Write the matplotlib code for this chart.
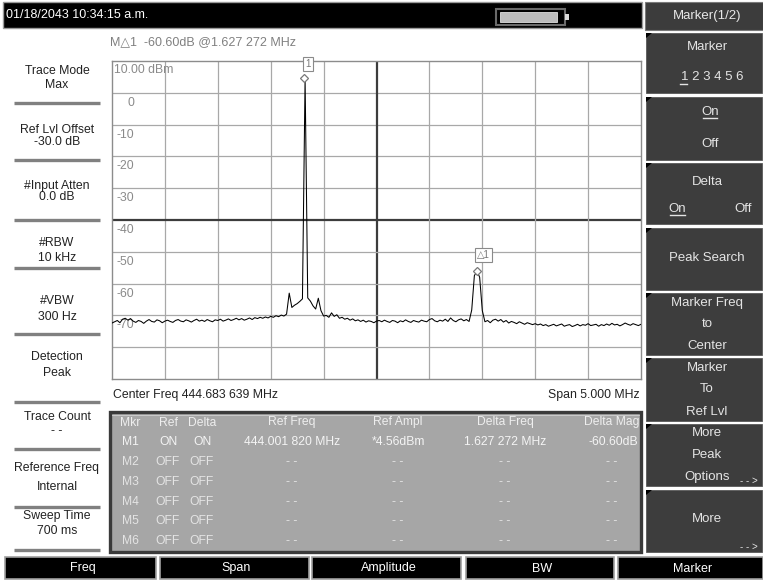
import numpy as np
import matplotlib
matplotlib.use("Agg")
import matplotlib.pyplot as plt
from matplotlib.patches import Rectangle, Polygon

plt.rcParams['font.family'] = ['Liberation Sans', 'DejaVu Sans']

W, H = 763, 582

# ---------------------------------------------------------------------------
# Sweep settings and trace
# ---------------------------------------------------------------------------
CENTER_MHZ = 444.683639
SPAN_MHZ = 5.0
REF_DBM = 10.0
DB_PER_DIV = 10.0
N_DIV = 10

# 201 sweep points, left to right (dBm)
trace_dbm = [
    -72.4, -72.0, -71.6, -72.3, -71.2, -70.9, -71.5, -71.0, -71.8, -72.2, -71.6,
    -71.9, -72.5, -71.8, -71.3, -71.9, -72.1, -71.4, -71.7, -72.3, -71.8,
    -71.5, -71.9, -72.2, -71.6, -71.3, -71.8, -72.0, -71.4, -71.7, -72.1, -71.6, -71.2, -71.8,
    -71.5, -71.9, -71.3, -71.7, -72.0, -71.4, -71.6, -71.2, -71.8, -71.5, -71.1, -71.6,
    -71.3, -70.9, -71.4, -71.0, -71.5, -71.2, -70.8, -71.3, -70.7, -71.0, -70.6, -70.9, -70.5,
    -70.8, -70.3, -70.6, -70.1, -70.4, -69.9, -70.2, -69.6,
    -63.0, -67.5, -66.8, -66.3, -65.6, -64.8, 4.56, -64.5, -65.5, -67.0,
    -68.0, -64.6, -68.5, -70.2, -70.0, -70.6, -69.2, -70.3, -69.8, -70.9,
    -70.6, -71.2, -70.9, -71.5, -71.1, -71.7, -71.4, -71.9, -71.5, -72.1, -71.7, -71.9, -72.3, -71.8,
    -71.6, -72.0, -71.5, -71.9, -72.2, -71.6, -71.8, -72.3, -71.7, -72.0, -71.4,
    -71.9, -72.2, -71.6, -71.9, -72.1, -71.5, -71.8, -72.0, -71.3, -71.0,
    -71.7, -72.0, -71.5, -71.8, -71.2, -71.9, -70.8, -71.6, -72.0, -71.4, -71.1, -71.7, -71.3, -71.9,
    -68.3, -57.5, -56.04, -58.0, -68.5,
    -72.0, -71.6, -72.3, -71.5, -71.2, -71.8, -71.3, -72.1, -71.6, -72.4,
    -71.9, -72.2, -72.6, -72.0, -72.4, -72.8, -72.3, -72.6, -72.9,
    -72.6, -73.0, -72.7, -73.2, -72.9, -73.4, -73.1, -72.8, -73.3, -73.0,
    -72.7, -73.4, -73.1, -72.9, -73.5, -73.2, -72.8, -73.3, -72.9, -73.1,
    -72.6, -73.2, -73.0, -72.8, -73.4, -72.9, -73.2, -72.7, -73.1, -72.5,
    -73.0, -72.8, -73.3, -72.9, -72.4, -72.8, -73.1, -72.6, -72.9, -73.2, -72.8,
]

marker_freq = 444.001820
marker_dbm = 4.56
delta_freq = 1.627272
delta_db = -60.60

# ---------------------------------------------------------------------------
# Screen texts
# ---------------------------------------------------------------------------
date_text = "01/18/2043 10:34:15 a.m."
marker_readout = "M\u25b31  -60.60dB @1.627 272 MHz"
left_titles = ["Trace Mode", "Ref Lvl Offset", "#Input Atten", "#RBW", "#VBW",
               "Detection", "Trace Count", "Reference Freq", "Sweep Time"]
left_values = ["Max", "-30.0 dB", "0.0 dB", "10 kHz", "300 Hz",
               "Peak", "- -", "Internal", "700 ms"]
soft_keys = ["Freq", "Span", "Amplitude", "BW", "Marker"]

table_header = ["Mkr", "Ref", "Delta", "Ref Freq", "Ref Ampl", "Delta Freq", "Delta Mag"]
mkr_names = ["M1", "M2", "M3", "M4", "M5", "M6"]
mkr_ref = ["ON", "OFF", "OFF", "OFF", "OFF", "OFF"]
mkr_delta = ["ON", "OFF", "OFF", "OFF", "OFF", "OFF"]
mkr_ref_freq = ["444.001 820 MHz", "- -", "- -", "- -", "- -", "- -"]
mkr_ref_ampl = ["*4.56dBm", "- -", "- -", "- -", "- -", "- -"]
mkr_delta_freq = ["1.627 272 MHz", "- -", "- -", "- -", "- -", "- -"]
mkr_delta_mag = ["-60.60dB", "- -", "- -", "- -", "- -", "- -"]

# ---------------------------------------------------------------------------
# Layout (pixels)
# ---------------------------------------------------------------------------
PLOT_L, PLOT_R, PLOT_T, PLOT_B = 112, 641, 61, 379
left_title_y = [71.5, 130, 186.5, 243, 301.5, 356.5, 416.5, 468.5, 516.5]
left_value_y = [85, 142, 197, 258, 316.5, 373, 431, 487.5, 531.5]
left_sep_y = [103, 160, 220, 268, 334, 402, 449, 507, 550]
key_x = [(5, 156), (160, 309), (312, 461), (466, 614), (618, 763)]
btn_y = [(33, 93), (97, 160), (163, 224), (228, 290),
         (293, 355), (358, 421), (424, 486), (490, 552)]
col_x = [130, 168, 202, 292, 398, 505, 612]
RX = 707

fig = plt.figure(figsize=(W / 100, H / 100), dpi=100)
fig.patch.set_facecolor("white")
bg = fig.add_axes([0, 0, 1, 1])
bg.set_xlim(0, W)
bg.set_ylim(H, 0)
bg.axis("off")


def box(x0, y0, x1, y1, fc, ec="none", lw=0.0, z=1):
    bg.add_patch(Rectangle((x0, y0), x1 - x0, y1 - y0, facecolor=fc,
                           edgecolor=ec, linewidth=lw, zorder=z))


def txt(x, y, s, color="#222222", size=9, ha="center", z=5, **kw):
    bg.text(x, y, s, color=color, fontsize=size, ha=ha, va="center",
            zorder=z, **kw)


# ── top status bar ─────────────────────────────────────────────────────────
box(3, 2, 642, 28, "black", "#9a9a9a", 1.0)
txt(6, 15, date_text, color="white", size=9, ha="left")
box(496, 9, 565, 25, "black", "#6a6a6a", 1.5, z=2)
box(500, 12, 557, 22, "#bdbdbd", "#e0e0e0", 0.6, z=3)
box(565, 14, 569, 20, "#dcdcdc", z=3)

# ── right soft-key panel ───────────────────────────────────────────────────
box(645, 2, 763, 30, "#3c3c3c", "#7a7a7a", 0.8)
txt(RX, 16, "Marker(1/2)", color="#e8e8e8", size=9.5)
for (y0, y1) in btn_y:
    box(646, y0, 762, y1, "#3d3d3d", "#5a5a5a", 0.6)
    bg.add_patch(Polygon([[646, y0], [652, y0], [646, y0 + 5]],
                         closed=True, facecolor="black", zorder=2))

fg = "#e4e4e4"
txt(RX, 46.7, "Marker", color=fg, size=9.5)
txt(681, 77.3, "1 2 3 4 5 6", color=fg, size=9.5, ha="left")
bg.plot([680, 687], [84, 84], color=fg, lw=1.0, zorder=5)
txt(RX + 3, 111.7, "On", color=fg, size=9.5)
bg.plot([703, 717], [118, 118], color=fg, lw=1.0, zorder=5)
txt(RX + 3, 144, "Off", color=fg, size=9.5)
txt(RX, 181.7, "Delta", color=fg, size=9.5)
txt(677, 209, "On", color=fg, size=9.5)
bg.plot([670, 685], [215, 215], color=fg, lw=1.0, zorder=5)
txt(743, 209, "Off", color=fg, size=9.5)
txt(RX, 258, "Peak Search", color=fg, size=9.5)
txt(RX, 303, "Marker Freq", color=fg, size=9.5)
txt(RX, 324, "to", color=fg, size=9.5)
txt(RX, 345.7, "Center", color=fg, size=9.5)
txt(RX, 367.7, "Marker", color=fg, size=9.5)
txt(RX, 389, "To", color=fg, size=9.5)
txt(RX, 411.7, "Ref Lvl", color=fg, size=9.5)
txt(RX, 432.7, "More", color=fg, size=9.5)
txt(RX, 455, "Peak", color=fg, size=9.5)
txt(RX, 476.7, "Options", color=fg, size=9.5)
txt(749, 481.5, "- - >", color=fg, size=7)
txt(RX, 519.3, "More", color=fg, size=9.5)
txt(749, 546.5, "- - >", color=fg, size=7)

# ── bottom soft keys ───────────────────────────────────────────────────────
for (x0, x1), name in zip(key_x, soft_keys):
    box(x0, 557, x1, 579, "black", "#a0a0a0", 1.2)
    txt((x0 + x1) / 2 + 2, 568.5, name, color="white", size=9)

# ── left status panel ──────────────────────────────────────────────────────
for t, v, ty, vy in zip(left_titles, left_values, left_title_y, left_value_y):
    txt(57, ty, t, size=8.8)
    txt(57, vy, v, size=8.8)
for sy in left_sep_y:
    bg.plot([14, 100], [sy, sy], color="#808080", lw=2.4,
            solid_capstyle="butt", zorder=3)

# ── marker readout and span texts ──────────────────────────────────────────
txt(110, 42, marker_readout, color="#808080", size=9, ha="left")
txt(113, 395, "Center Freq 444.683 639 MHz", size=8.8, ha="left")
txt(640, 395, "Span 5.000 MHz", size=8.8, ha="right")

# ── marker table ───────────────────────────────────────────────────────────
box(110, 412, 641, 552, "#a6a6a6", "#3a3a3a", 2.4)
bg.plot([112, 639], [415, 415], color="#d0d0d0", lw=0.6, zorder=2)
row_y0, row_dy = 422.5, 19.8
for cx, h in zip(col_x, table_header):
    txt(cx, row_y0, h, color="#eeeeee", size=8.7)
columns = [mkr_names, mkr_ref, mkr_delta, mkr_ref_freq,
           mkr_ref_ampl, mkr_delta_freq, mkr_delta_mag]
for k in range(len(mkr_names)):
    y = row_y0 + row_dy * (k + 1)
    for cx, col in zip(col_x, columns):
        s = col[k]
        if cx == col_x[-1] and k == 0:
            txt(638, y, s, color="#f4f4f4", size=8.7, ha="right")
        else:
            txt(cx, y, s, color="#f4f4f4" if k == 0 else "#e4e4e4", size=8.7)

# ---------------------------------------------------------------------------
# Spectrum graph
# ---------------------------------------------------------------------------
ax = fig.add_axes([PLOT_L / W, 1 - PLOT_B / H,
                   (PLOT_R - PLOT_L) / W, (PLOT_B - PLOT_T) / H])
f_start = CENTER_MHZ - SPAN_MHZ / 2
f_stop = CENTER_MHZ + SPAN_MHZ / 2
y_bot = REF_DBM - N_DIV * DB_PER_DIV
ax.set_xlim(f_start, f_stop)
ax.set_ylim(y_bot, REF_DBM)
ax.set_xticks([])
ax.set_yticks([])
ax.set_facecolor("white")
for sp in ax.spines.values():
    sp.set_color("#8c8c8c")
    sp.set_linewidth(1.0)

for k in range(1, N_DIV):
    fx = f_start + k * SPAN_MHZ / N_DIV
    ly = REF_DBM - k * DB_PER_DIV
    centre = (k == N_DIV // 2)
    ax.axvline(fx, color="#3c3c3c" if centre else "#a8a8a8",
               lw=1.6 if centre else 0.9, zorder=1)
    ax.axhline(ly, color="#3c3c3c" if centre else "#a8a8a8",
               lw=1.6 if centre else 0.9, zorder=1)

ax.annotate(f"{REF_DBM:.2f} dBm", xy=(0, REF_DBM), xycoords=("axes fraction", "data"),
            xytext=(2, -9), textcoords="offset pixels", ha="left", va="center",
            color="#8a8a8a", fontsize=8.8, zorder=2)
for k in range(1, N_DIV - 1):
    ly = REF_DBM - k * DB_PER_DIV
    ax.annotate(f"{ly:.0f}", xy=(0, ly), xycoords=("axes fraction", "data"),
                xytext=(22, -10), textcoords="offset pixels", ha="right",
                va="center", color="#8a8a8a", fontsize=8.8, zorder=2)

freqs = np.linspace(f_start, f_stop, len(trace_dbm))
ax.plot(freqs, trace_dbm, color="black", lw=0.75, zorder=3)

d_freq = marker_freq + delta_freq
d_dbm = marker_dbm + delta_db
ax.plot([marker_freq, d_freq], [marker_dbm, d_dbm], linestyle="none",
        marker="D", markersize=4, markerfacecolor="white",
        markeredgecolor="#777777", markeredgewidth=0.9, zorder=4)
ax.annotate("1", xy=(marker_freq, 1.0), xycoords=("data", "axes fraction"),
            xytext=(4, -3), textcoords="offset pixels", ha="center", va="center",
            fontsize=7, color="#777777", annotation_clip=False, zorder=5,
            bbox=dict(boxstyle="square,pad=0.25", fc="white", ec="#8a8a8a", lw=0.8))
ax.annotate("\u25b31", xy=(d_freq, d_dbm), xytext=(7, 16),
            textcoords="offset pixels", ha="center", va="center",
            fontsize=7, color="#777777", zorder=5,
            bbox=dict(boxstyle="square,pad=0.25", fc="white", ec="#8a8a8a", lw=0.8))

fig.savefig("out.png", dpi=100)
